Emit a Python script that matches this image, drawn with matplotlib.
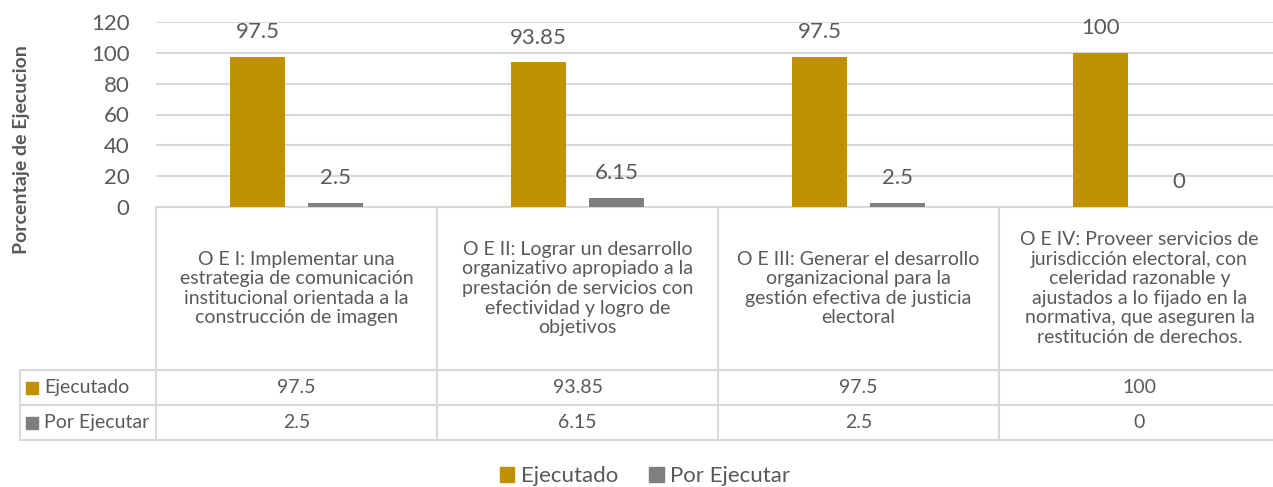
import numpy as np
import matplotlib.pyplot as plt
from matplotlib.patches import Patch
import matplotlib.transforms as mtransforms

plt.rcParams['font.family'] = ['Lato', 'DejaVu Sans']

categorias = [
    "O E I: Implementar una\nestrategia de comunicación\ninstitucional orientada a la\nconstrucción de imagen",
    "O E II: Lograr un desarrollo\norganizativo apropiado a la\nprestación de servicios con\nefectividad y logro de\nobjetivos",
    "O E III: Generar el desarrollo\norganizacional para la\ngestión efectiva de justicia\nelectoral",
    "O E IV: Proveer servicios de\njurisdicción electoral, con\nceleridad razonable y\najustados a lo fijado en la\nnormativa, que aseguren la\nrestitución de derechos.",
]
ejecutado = [97.5, 93.85, 97.5, 100]
por_ejecutar = [2.5, 6.15, 2.5, 0]
series = ["Ejecutado", "Por Ejecutar"]
colores = ["#BF9000", "#7F7F7F"]
yticks = [0, 20, 40, 60, 80, 100, 120]

txt = "#595959"
grid = "#D9D9D9"
W, H = 1273, 487

fig = plt.figure(figsize=(W / 100, H / 100), dpi=100)
ax = fig.add_axes([156 / W, (H - 207) / H, (1280 - 156) / W, 185 / H])

x = np.arange(len(categorias))
bw = 0.196
off = 0.139
for vals, col, sgn in [(ejecutado, colores[0], -1), (por_ejecutar, colores[1], 1)]:
    bars = ax.bar(x + sgn * off, vals, bw, color=col, zorder=3)
    for b, v in zip(bars, vals):
        ax.text(b.get_x() + b.get_width() / 2, v + 16, f"{v:g}", ha="center",
                va="center", fontsize=16, color=txt, clip_on=False)

ax.set_xlim(-0.5, 3.5)
ax.set_ylim(0, 120)
ax.set_yticks(yticks)
ax.set_xticks([])
ax.yaxis.grid(True, color=grid, lw=1.5, zorder=0)
ax.tick_params(axis="y", length=0, labelsize=16, labelcolor=txt, pad=19)
for s in ax.spines.values():
    s.set_visible(False)

# data table below the axis
tr = mtransforms.blended_transform_factory(ax.transData, ax.transAxes)
px = 1 / 185.0
y0, y1, y2, y3 = 0, -163 * px, -198 * px, -233 * px
xl = -0.5 - 136 / 281
xr = 3.6
lk = dict(color=grid, lw=1.5, transform=tr, clip_on=False)
ax.plot([-0.5, xr], [y0, y0], **lk)
for yy in (y1, y2, y3):
    ax.plot([xl, xr], [yy, yy], **lk)
ax.plot([xl, xl], [y1, y3], **lk)
for e in np.arange(len(categorias) + 1) - 0.5:
    ax.plot([e, e], [y0, y3], **lk)

for i, c in enumerate(categorias):
    ax.text(i, (y0 + y1) / 2, c, ha="center", va="center", fontsize=14,
            color=txt, transform=tr, linespacing=1.18, clip_on=False)
    ax.text(i, (y1 + y2) / 2, f"{ejecutado[i]:g}", ha="center", va="center",
            fontsize=14, color=txt, transform=tr, clip_on=False)
    ax.text(i, (y2 + y3) / 2, f"{por_ejecutar[i]:g}", ha="center", va="center",
            fontsize=14, color=txt, transform=tr, clip_on=False)

for (ya, yb), name, col in zip([(y1, y2), (y2, y3)], series, colores):
    ym = (ya + yb) / 2
    ax.scatter([xl + 0.042], [ym], marker="s", s=75, color=col, transform=tr,
               clip_on=False, zorder=4)
    ax.text(xl + 0.085, ym, name, ha="left", va="center", fontsize=14,
            color=txt, transform=tr, clip_on=False)

fig.text(22 / W, 1 - 150 / H, "Porcentaje de Ejecucion", rotation=90,
         ha="center", va="center", fontsize=14, fontweight="bold", color=txt)

handles = [Patch(color=c, label=n) for c, n in zip(colores, series)]
fig.legend(handles=handles, loc="center", bbox_to_anchor=(645 / W, 11 / H),
           ncol=2, frameon=False, fontsize=16, labelcolor=txt,
           handlelength=0.65, handleheight=0.65, handletextpad=0.3,
           columnspacing=1.4)

fig.savefig("out.png", dpi=100)
